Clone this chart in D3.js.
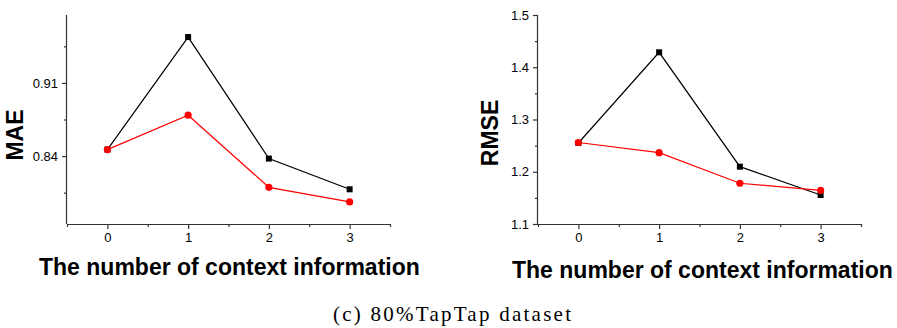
<!DOCTYPE html>
<html>
<head>
<meta charset="utf-8">
<script src="https://cdn.jsdelivr.net/npm/d3@7"></script>
<style>
  body { margin: 0; background: #fff; }
  svg text { font-family: "Liberation Sans", Arial, sans-serif; }
</style>
</head>
<body>
<div id="chart"></div>
<script>
// data
var contexts = [0, 1, 2, 3];
var maeBlack = [0.8462, 0.9539, 0.8376, 0.8082];
var maeRed = [0.8462, 0.8791, 0.8101, 0.7961];
var rmseBlack = [1.255, 1.4286, 1.2097, 1.1555];
var rmseRed = [1.256, 1.2365, 1.178, 1.1645];
var maeTicks = [0.84, 0.91];
var maeMinor = [0.805, 0.875, 0.945];
var rmseTicks = [1.1, 1.2, 1.3, 1.4, 1.5];
var rmseMinor = [1.15, 1.25, 1.35, 1.45];
var xMinor = [-0.5, 0.5, 1.5, 2.5, 3.5];

var svg = d3.select("#chart")
  .append("svg")
  .attr("width", 897)
  .attr("height", 328);

var axisColor = "#333";

function panel(opt) {
  var x = d3.scaleLinear().domain([-0.5, 3.5]).range([opt.left, opt.left + 323]);
  var y = d3.scaleLinear().domain(opt.yDom).range([224, 15]);

  var g = svg.append("g");

  // minor ticks
  g.append("g")
    .attr("transform", "translate(0,224)")
    .call(d3.axisBottom(x).tickValues(xMinor).tickSize(3).tickFormat(""))
    .call(a => a.select(".domain").remove());
  g.append("g")
    .attr("transform", "translate(" + opt.left + ",0)")
    .call(d3.axisLeft(y).tickValues(opt.minor).tickSize(3).tickFormat(""))
    .call(a => a.select(".domain").remove());

  // x axis
  g.append("g")
    .attr("transform", "translate(0,224)")
    .call(d3.axisBottom(x).tickValues(contexts).tickSize(5).tickPadding(4).tickFormat(d3.format("d")))
    .call(a => a.select(".domain").attr("d", "M" + opt.left + ",0.5H" + (opt.left + 323)))
    .selectAll("text").style("font-size", "13px").attr("fill", "#000");

  // y axis
  g.append("g")
    .attr("transform", "translate(" + opt.left + ",0)")
    .call(d3.axisLeft(y).tickValues(opt.ticks).tickSize(5).tickPadding(4).tickFormat(opt.fmt))
    .call(a => a.select(".domain").attr("d", "M-0.5,15V224"))
    .selectAll("text").style("font-size", "13px").attr("fill", "#000");

  g.selectAll(".domain, .tick line").attr("stroke", axisColor).attr("stroke-width", 1.2);

  var line = d3.line().x((d, i) => x(contexts[i])).y(d => y(d));

  g.append("path").datum(opt.black)
    .attr("d", line).attr("fill", "none").attr("stroke", "#000").attr("stroke-width", 1.2);
  g.selectAll(".sq").data(opt.black).enter().append("rect")
    .attr("x", (d, i) => x(contexts[i]) - 3)
    .attr("y", d => y(d) - 3)
    .attr("width", 6).attr("height", 6)
    .attr("fill", "#000");

  g.append("path").datum(opt.red)
    .attr("d", line).attr("fill", "none").attr("stroke", "#ff0000").attr("stroke-width", 1.2);
  g.selectAll(".ci").data(opt.red).enter().append("circle")
    .attr("cx", (d, i) => x(contexts[i]))
    .attr("cy", d => y(d))
    .attr("r", 3.6)
    .attr("fill", "#ff0000");

  // axis titles
  g.append("text")
    .attr("transform", "translate(" + opt.yLabelX + "," + opt.yLabelY + ") rotate(-90)")
    .attr("text-anchor", "middle")
    .style("font-size", "23px").style("font-weight", "bold")
    .text(opt.yLabel);

  g.append("text")
    .attr("x", opt.xLabelX)
    .attr("y", opt.xLabelY)
    .style("font-size", "23px").style("font-weight", "bold")
    .text("The number of context information");
}

panel({
  left: 67, yDom: [0.775, 0.975], ticks: maeTicks, minor: maeMinor,
  fmt: d3.format(".2f"), black: maeBlack, red: maeRed,
  yLabel: "MAE", yLabelX: 23, yLabelY: 135, xLabelX: 39, xLabelY: 275
});

panel({
  left: 538, yDom: [1.1, 1.5], ticks: rmseTicks, minor: rmseMinor,
  fmt: d3.format(".1f"), black: rmseBlack, red: rmseRed,
  yLabel: "RMSE", yLabelX: 498, yLabelY: 133, xLabelX: 512, xLabelY: 278
});

svg.append("text")
  .attr("x", 452)
  .attr("y", 321)
  .attr("text-anchor", "middle")
  .attr("textLength", 238)
  .attr("lengthAdjust", "spacing")
  .style("font-family", "'Liberation Serif', 'DejaVu Serif', serif")
  .style("font-size", "21px")
  .text("(c) 80%TapTap dataset");
</script>
</body>
</html>
